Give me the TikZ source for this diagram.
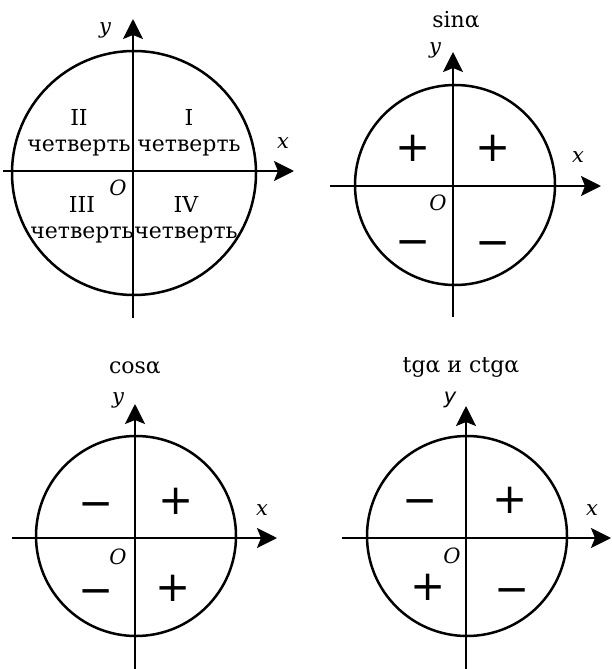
\documentclass[tikz,border=0pt]{standalone}
\usepackage{fontspec}
\setmainfont{DejaVu Serif}
\newfontfamily\signfont{DejaVu Sans}
\usetikzlibrary{arrows.meta}
\tikzset{
  axis/.style={line width=2.3pt,-{Stealth[length=20pt,width=20pt,inset=4pt]}},
  circ/.style={line width=2.5pt},
  lbl/.style={font=\fontsize{21}{24}\selectfont\itshape,inner sep=0pt},
  ttl/.style={font=\fontsize{22}{24}\selectfont,inner sep=0pt},
  quart/.style={font=\fontsize{22}{26}\selectfont,inner sep=0pt,align=center},
  sgn/.style={font=\signfont\fontsize{42}{42}\selectfont,inner sep=0pt},
  mns/.style={sgn,yshift=-9pt}
}
\begin{document}
\begin{tikzpicture}[x=1pt,y={(0,-1pt)}]
\useasboundingbox (0,0) rectangle (611,669);
% ---- diagram 1
\draw[circ] (134,173) circle (122);
\coordinate (x1s) at (3,171); \coordinate (x1e) at (294,171);
\coordinate (y1s) at (133,318); \coordinate (y1e) at (133,19);
\draw[axis] (x1s) -- (x1e);
\draw[axis] (y1s) -- (y1e);
\node[lbl] (y1) at (105,30) {y};
\node[lbl] (x1) at (283,143) {x};
\node[lbl] (o1) at (118,188) {O};
\node[quart] (q2) at (79,133) {II\\четверть};
\node[quart] (q1) at (189,133) {I\\четверть};
\node[quart] (q3) at (82,220) {III\\четверть};
\node[quart] (q4) at (186,220) {IV\\четверть};
% ---- diagram 2
\draw[circ] (455,185) circle (100);
\coordinate (x2s) at (330,186); \coordinate (x2e) at (601,186);
\coordinate (y2s) at (453,317); \coordinate (y2e) at (453,52);
\draw[axis] (x2s) -- (x2e);
\draw[axis] (y2s) -- (y2e);
\node[ttl] (t2) at (456,20) {sinα};
\node[lbl] (y2) at (435,50) {y};
\node[lbl] (x2) at (578,157) {x};
\node[lbl] (o2) at (438,203) {O};
\node[sgn] (s21) at (413,148) {+};
\node[sgn] (s22) at (493,148) {+};
\node[mns] (s23) at (413,239) {−};
\node[mns] (s24) at (493,240) {−};
% ---- diagram 3
\draw[circ] (136,536) circle (100);
\coordinate (x3s) at (12,538); \coordinate (x3e) at (277,538);
\coordinate (y3s) at (135,669); \coordinate (y3e) at (135,404);
\draw[axis] (x3s) -- (x3e);
\draw[axis] (y3s) -- (y3e);
\node[ttl] (t3) at (135,368) {cosα};
\node[lbl] (y3) at (118,400) {y};
\node[lbl] (x3) at (262,510) {x};
\node[lbl] (o3) at (118,557) {O};
\node[mns] (s31) at (96,501) {−};
\node[sgn] (s32) at (176,501) {+};
\node[mns] (s33) at (96,588) {−};
\node[sgn] (s34) at (173,588) {+};
% ---- diagram 4
\draw[circ] (467,536) circle (100);
\coordinate (x4s) at (342,538); \coordinate (x4e) at (611,538);
\coordinate (y4s) at (466,669); \coordinate (y4e) at (466,406);
\draw[axis] (x4s) -- (x4e);
\draw[axis] (y4s) -- (y4e);
\node[ttl] (t4) at (461,367) {tgα и ctgα};
\node[lbl,font=\signfont\fontsize{21}{24}\selectfont\itshape] (y4) at (450,400) {y};
\node[lbl] (x4) at (592,510) {x};
\node[lbl] (o4) at (452,556) {O};
\node[mns] (s41) at (420,498) {−};
\node[sgn] (s42) at (510,500) {+};
\node[sgn] (s43) at (428,587) {+};
\node[mns] (s44) at (512,587) {−};
\end{tikzpicture}
\end{document}
